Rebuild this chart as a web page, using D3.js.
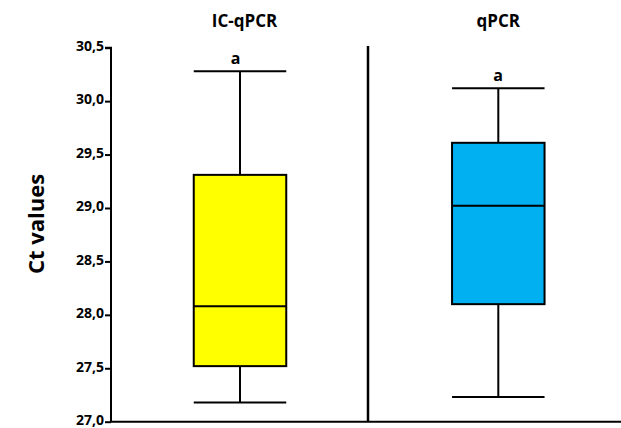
<!DOCTYPE html>
<html><head><meta charset="utf-8">
<script src="https://cdn.jsdelivr.net/npm/d3@7"></script>
<style>body{margin:0;background:#fff}svg{display:block}text{font-family:"Open Sans",Lato,sans-serif;font-weight:bold}</style>
</head><body><svg id="c" width="621" height="428"></svg>
<script>
const groups = ["IC-qPCR", "qPCR"];
const whiskerLow = [27.18, 27.23];
const q1 = [27.52, 28.10];
const median = [28.08, 29.02];
const q3 = [29.31, 29.61];
const whiskerHigh = [30.28, 30.12];
const letters = ["a", "a"];
const colors = ["#FFFF00", "#00B0F0"];
const yTicks = [27.0, 27.5, 28.0, 28.5, 29.0, 29.5, 30.0, 30.5];

const svg = d3.select("#c");
const y = d3.scaleLinear().domain([27, 30.5]).range([421.7, 47.7]);
const centers = [240, 498.3];
const titleX = [244.5, 498.3];
const letterX = [235.5, 498];
const boxW = 92.5;

// y axis
const yAxis = d3.axisLeft(y).tickValues(yTicks).tickSize(6).tickPadding(1)
  .tickFormat(d => d3.format(".1f")(d).replace(".", ","));
const ga = svg.append("g").attr("transform", "translate(111,0)").call(yAxis);
ga.select(".domain").attr("stroke", "#000").attr("stroke-width", 2).attr("d", `M-6,${y(30.5)}H0V${y(27)}`);
ga.selectAll(".tick line").attr("stroke", "#000").attr("stroke-width", 2);
ga.selectAll(".tick text").attr("font-size", 14).attr("fill", "#000").attr("font-weight", "bold").attr("dy", "0.2em");

// x baseline
svg.append("line").attr("x1", 110).attr("x2", 621).attr("y1", y(27)).attr("y2", y(27))
  .attr("stroke", "#000").attr("stroke-width", 2);
// separator
svg.append("line").attr("x1", 368).attr("x2", 368).attr("y1", 46).attr("y2", y(27))
  .attr("stroke", "#000").attr("stroke-width", 2.5);

groups.forEach((g, i) => {
  const cx = centers[i];
  const gg = svg.append("g");
  gg.append("line").attr("x1", cx).attr("x2", cx).attr("y1", y(whiskerHigh[i])).attr("y2", y(q3[i]))
    .attr("stroke", "#000").attr("stroke-width", 2);
  gg.append("line").attr("x1", cx).attr("x2", cx).attr("y1", y(q1[i])).attr("y2", y(whiskerLow[i]))
    .attr("stroke", "#000").attr("stroke-width", 2);
  [whiskerHigh[i], whiskerLow[i]].forEach(v => {
    gg.append("line").attr("x1", cx - boxW / 2).attr("x2", cx + boxW / 2).attr("y1", y(v)).attr("y2", y(v))
      .attr("stroke", "#000").attr("stroke-width", 2);
  });
  gg.append("rect").attr("x", cx - boxW / 2).attr("width", boxW)
    .attr("y", y(q3[i])).attr("height", y(q1[i]) - y(q3[i]))
    .attr("fill", colors[i]).attr("stroke", "#000").attr("stroke-width", 2);
  gg.append("line").attr("x1", cx - boxW / 2).attr("x2", cx + boxW / 2).attr("y1", y(median[i])).attr("y2", y(median[i]))
    .attr("stroke", "#000").attr("stroke-width", 2);
  gg.append("text").attr("x", letterX[i]).attr("y", y(whiskerHigh[i]) - 7).attr("text-anchor", "middle")
    .attr("font-size", 16).text(letters[i]);
  gg.append("text").attr("x", titleX[i]).attr("y", 27).attr("text-anchor", "middle")
    .attr("font-size", 17).text(g);
});

svg.append("text").attr("transform", "translate(44,224) rotate(-90)").attr("text-anchor", "middle")
  .attr("font-size", 22).text("Ct values");
</script></body></html>
